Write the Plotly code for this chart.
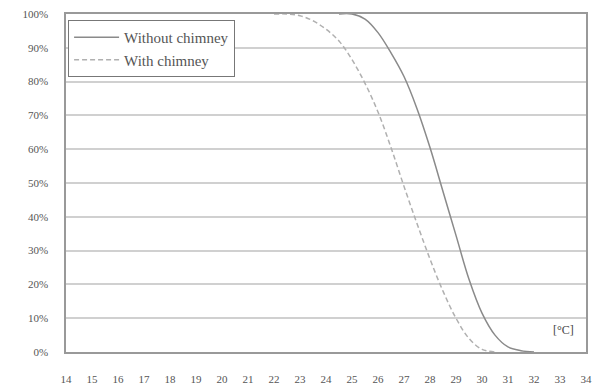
import plotly.graph_objects as go

# Share of hours above comfort threshold vs. outdoor temperature
temp_without = [24.5, 25, 25.5, 26, 26.5, 27, 27.5, 28, 28.5, 29, 29.5, 30, 30.5, 31, 31.5, 32]
share_without = [1.0, 1.0, 0.985, 0.945, 0.885, 0.815, 0.72, 0.605, 0.475, 0.345, 0.215, 0.115, 0.05, 0.015, 0.004, 0.0]

temp_with = [22, 22.5, 23, 23.5, 24, 24.5, 25, 25.5, 26, 26.5, 27, 27.5, 28, 28.5, 29, 29.5, 30, 30.5]
share_with = [1.0, 1.0, 0.995, 0.98, 0.955, 0.92, 0.865, 0.795, 0.71, 0.605, 0.49, 0.38, 0.275, 0.18, 0.1, 0.04, 0.008, 0.0]

x_ticks = list(range(14, 35))
y_ticks = [i / 10 for i in range(11)]

font = dict(family="Liberation Serif", size=11, color="#555555")

fig = go.Figure()
fig.add_trace(go.Scatter(
    x=temp_without, y=share_without, mode="lines", name="Without chimney",
    line=dict(color="#8a8a8a", width=1.5), line_shape="spline",
))
fig.add_trace(go.Scatter(
    x=temp_with, y=share_with, mode="lines", name="With chimney",
    line=dict(color="#b0b0b0", width=1.5, dash="5px,3px"), line_shape="spline",
))

fig.add_annotation(
    x=33.6, y=0.065, xref="x", yref="y", text="[°C]", showarrow=False,
    xanchor="right", font=dict(family="Liberation Serif", size=12, color="#444444"),
)

fig.update_layout(
    width=602, height=389,
    margin=dict(l=66, r=16, t=14, b=37, autoexpand=False),
    paper_bgcolor="white", plot_bgcolor="white",
    font=font,
    showlegend=True,
    legend=dict(
        x=0.004, y=0.982, xanchor="left", yanchor="top",
        bgcolor="white", bordercolor="#777777", borderwidth=1,
        font=dict(family="Liberation Serif", size=15, color="#555555"),
        itemwidth=45, tracegroupgap=0,
    ),
    xaxis=dict(
        range=[14, 34], tickmode="array", tickvals=x_ticks,
        ticktext=[str(v) for v in x_ticks],
        showgrid=False, zeroline=False, automargin=False,
        showline=True, linecolor="#999999", linewidth=1.5, mirror=True,
        ticks="", ticklabelstandoff=16,
    ),
    yaxis=dict(
        range=[0, 1], tickmode="array", tickvals=y_ticks, tickformat=".0%",
        showgrid=True, gridcolor="#d0d0d0", gridwidth=2, zeroline=False,
        automargin=False,
        showline=True, linecolor="#999999", linewidth=1.5, mirror=True,
        ticks="", ticklabelstandoff=14,
    ),
)

fig.write_html("out.html")
